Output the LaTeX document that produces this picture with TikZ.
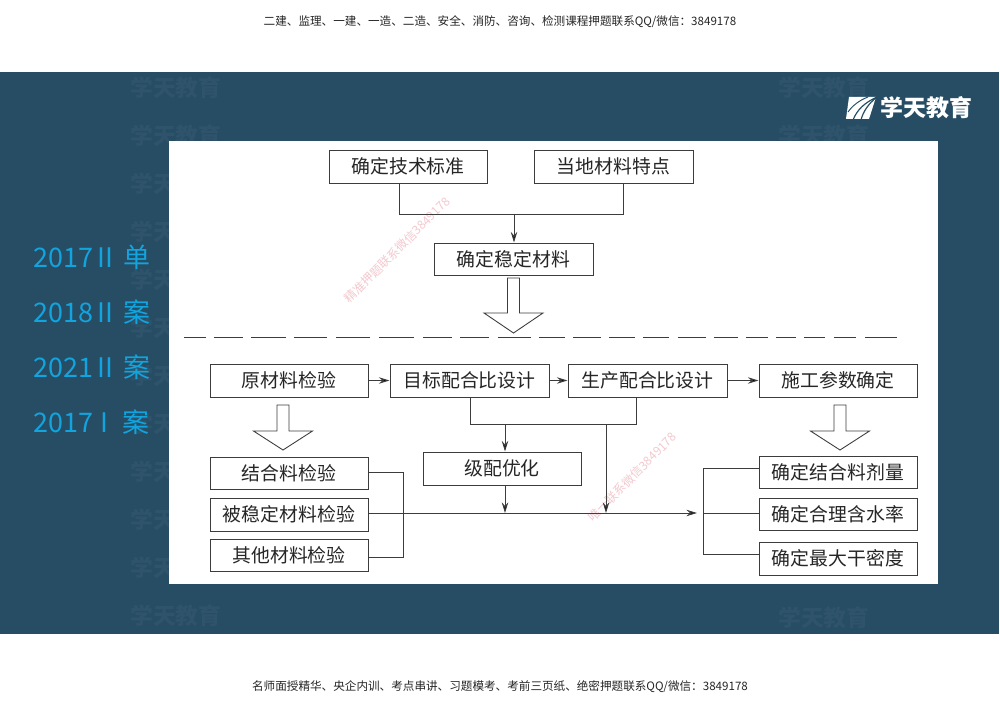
\documentclass[tikz,border=0pt]{standalone}
\usepackage{fontspec}
\setmainfont{Noto Sans CJK SC}
\usetikzlibrary{arrows.meta,calc}
\definecolor{navy}{HTML}{264D64}
\definecolor{wmdark}{HTML}{2E536A}
\definecolor{cyantxt}{HTML}{12A4DE}
\definecolor{linegray}{HTML}{3C3C3C}
\definecolor{wmpink}{HTML}{F3C9CF}
\tikzset{
  x=0.03cm,y=-0.03cm,
  box/.style={draw=linegray,line width=0.85pt,fill=white,inner sep=0pt,text=black!85,font=\fontsize{16.1}{18}\selectfont},
  conn/.style={draw=linegray,line width=0.85pt},
  arr/.style={conn,-{Stealth[length=9pt,width=5.5pt,fill=black]}},
  hollow/.style={draw=linegray,line width=0.75pt,fill=white,line join=miter},
  yearlbl/.style={anchor=west,text=cyantxt,inner sep=0pt,font=\fontsize{23}{25}\selectfont},
  smalltxt/.style={text=black!85,inner sep=0pt,font=\fontsize{9.9}{12}\selectfont},
  faint/.style={text=wmdark,inner sep=0pt,anchor=west,font=\fontsize{19.5}{22}\selectfont\bfseries},
  pinktxt/.style={text=wmpink,inner sep=0pt,rotate=45,font=\fontsize{10.3}{12}\selectfont},
  logotxt/.style={text=white,inner sep=0pt,anchor=west,font=\fontsize{19.6}{22}\selectfont\bfseries},
}
\newcommand{\bx}[6]{\node[box,minimum width={(#4-#2)*0.03cm},minimum height={(#5-#3)*0.03cm}] (#1) at ({(#2+#4)/2},{(#3+#5)/2}) {#6};}
\newcommand{\hollowarrow}[6]{\draw[hollow] ({#1-#5},#2) -- ({#1+#5},#2) -- ({#1+#5},#3) -- ({#1+#6},#3) -- (#1,#4) -- ({#1-#6},#3) -- ({#1-#5},#3) -- cycle;}
\begin{document}
\begin{tikzpicture}
\useasboundingbox (0,0) rectangle (1000,707);
\fill[white] (0,0) rectangle (1000,707);
\fill[navy] (0,72) rectangle (998.5,634);
% faint watermarks on the band
\foreach \yy in {88,136,184,232,280,328,376,424,472,520,568,616}
  \node[faint] (wl\yy) at (130,\yy) {学天教育};
\node[faint] (wr1) at (778,88) {学天教育};
\node[faint] (wr2) at (778,136) {学天教育};
\node[faint] (wr3) at (778,618) {学天教育};
% panel
\fill[white] (169,141) rectangle (938,584);
% header, footer
\node[smalltxt] (hdr) at (500,22) {二建、监理、一建、一造、二造、安全、消防、咨询、检测课程押题联系QQ/微信：3849178};
\node[smalltxt] (ftr) at (500,687) {名师面授精华、央企内训、考点串讲、习题模考、考前三页纸、绝密押题联系QQ/微信：3849178};
% logo
\fill[white] (849,97) -- (876,97) -- (869,119) -- (846,119) -- cycle;
\draw[navy,line width=1pt] (853,120) .. controls (857,110) and (864,103) .. (877,97);
\draw[navy,line width=1pt] (861,120) .. controls (863,112) and (868,104) .. (877,97);
\draw[navy,line width=0.8pt] (848,112) .. controls (853,105) and (860,100) .. (868,97);
\node[logotxt] (logo) at (880,108) {学天教育};
% year labels
\node[yearlbl] (y1) at (33,257) {2017\hspace{3.5pt}II\hspace{9pt}单};
\node[yearlbl] (y2) at (33,312) {2018\hspace{3.5pt}II\hspace{9pt}案};
\node[yearlbl] (y3) at (33,367) {2021\hspace{3.5pt}II\hspace{9pt}案};
\node[yearlbl] (y4) at (33,422) {2017\hspace{6pt}I\hspace{12pt}案};
% diagonal watermarks
\node[pinktxt] (pk1) at (397,250) {精准押题联系微信3849178};
\node[pinktxt] (pk2) at (632,477) {唯一联系微信3849178};
% top boxes
\bx{tech}{329}{150}{487}{183}{确定技术标准}
\bx{local}{534}{150}{693}{183}{当地材料特点}
\bx{stab}{434}{243}{593}{275}{确定稳定材料}
\coordinate (ja) at (399,214);
\coordinate (jb) at (623,214);
\coordinate (jc) at (514,214);
\draw[conn] (tech.south -| ja) -- (ja) -- (jb) -- (local.south -| jb);
\draw[arr] (jc) -- (jc |- stab.north);
\hollowarrow{513.5}{278}{313}{333}{6}{29.5}
% dashed divider
\foreach \a/\b in {184/206,214/243,251/286,294/327,336/370,379/414,423/452,460/489,498/531,539/565,573/601,609/635,643/669,678/706,714/738,746/768,776/796,804/825,834/856,865/897}
  \draw[conn] (\a,337) -- (\b,337);
% row of stages
\bx{raw}{210}{364}{368}{397}{原材料检验}
\bx{target}{390}{364}{549}{397}{目标配合比设计}
\bx{prod}{568}{364}{727}{397}{生产配合比设计}
\bx{param}{759}{364}{917}{397}{施工参数确定}
\draw[arr] (raw) -- (target);
\draw[arr] (target) -- (prod);
\draw[arr] (prod) -- (param);
\hollowarrow{283}{405}{431}{450}{6}{29.5}
\hollowarrow{840}{405}{431}{450}{6}{29.5}
% left checks
\bx{binder}{210}{457}{368}{489}{结合料检验}
\bx{stabchk}{210}{498}{368}{531}{被稳定材料检验}
\bx{other}{210}{539}{368}{571}{其他材料检验}
% grading
\bx{grade}{423}{452}{581}{485}{级配优化}
% right results
\bx{dose}{759}{456}{917}{488}{确定结合料剂量}
\bx{water}{759}{498}{917}{530}{确定合理含水率}
\bx{dens}{759}{542}{917}{575}{确定最大干密度}
% junctions
\coordinate (k1) at (470,424);
\coordinate (k2) at (636,424);
\coordinate (k3) at (505,424);
\coordinate (k4) at (606,424);
\coordinate (m1) at (505,513);
\coordinate (m2) at (606,513);
\coordinate (tip) at (697,513);
\coordinate (b1) at (403,472);
\coordinate (b2) at (403,557);
\coordinate (r1) at (703,468);
\coordinate (r2) at (703,513);
\coordinate (r3) at (703,554);
\draw[conn] (target.south -| k1) -- (k1) -- (k2) -- (prod.south -| k2);
\draw[arr] (k3) -- (k3 |- grade.north);
\draw[arr] (grade.south -| m1) -- (m1);
\draw[arr] (k4) -- (m2);
\draw[conn] (binder.east |- b1) -- (b1) -- (b2) -- (other.east |- b2);
\draw[arr] (stabchk.east |- tip) -- (tip);
\draw[conn] (dose.west |- r1) -- (r1) -- (r3) -- (dens.west |- r3);
\draw[conn] (r2) -- (water.west |- r2);
\end{tikzpicture}
\end{document}
